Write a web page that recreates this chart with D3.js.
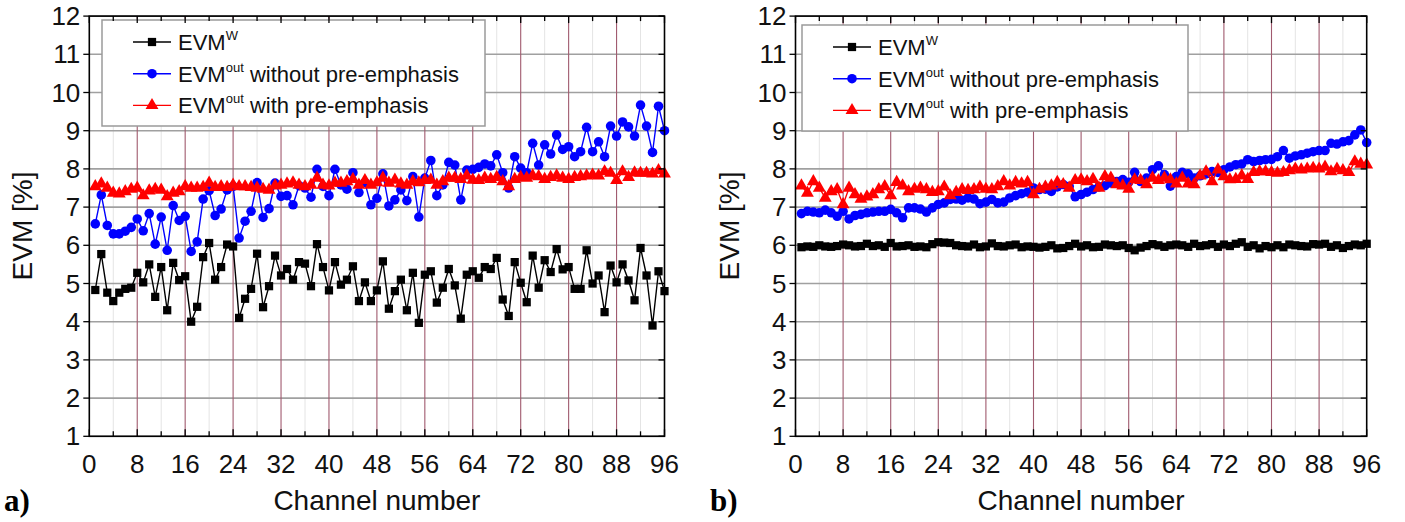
<!DOCTYPE html>
<html><head><meta charset="utf-8">
<script src="https://cdn.jsdelivr.net/npm/d3@7"></script>
<style>body{margin:0;background:#fff}</style>
</head><body><svg id="c" width="1405" height="522"></svg>
<script>
const channels = d3.range(1, 97);
const xTicks = d3.range(0, 97, 8);
const xMinorTicks = d3.range(0, 97, 4);
const yTicks = d3.range(1, 13);
const legendSup = ["W", "out", "out"];
const legendRest = ["", " without pre-emphasis", " with pre-emphasis"];
const panelLabels = ["a)", "b)"];
const xTitle = "Channel number";
const yTitle = "EVM [%]";

const a_evmW = [
4.83,5.77,4.76,4.54,4.76,4.86,4.89,5.28,5.03,5.50,
4.65,5.43,4.30,5.54,5.09,5.19,4.00,4.39,5.69,6.06,
5.10,5.43,6.02,5.97,4.10,4.60,4.86,5.78,4.38,4.93,
5.73,5.21,5.38,5.10,5.56,5.52,4.93,6.03,5.43,4.82,
5.56,4.97,5.10,5.45,4.54,5.03,4.54,4.82,5.58,4.34,
4.80,5.10,4.30,5.28,3.97,5.23,5.32,4.50,4.89,5.38,
4.95,4.08,5.23,5.32,5.15,5.43,5.38,5.67,4.58,4.15,
5.56,5.02,4.51,5.73,4.89,5.61,5.30,5.90,5.37,5.43,
4.86,4.86,5.87,5.00,5.21,4.25,5.47,5.03,5.50,5.08,
4.56,5.93,5.21,3.90,5.32,4.80];
const a_noPre = [
6.56,7.32,6.52,6.30,6.30,6.37,6.47,6.69,6.38,6.83,
6.03,6.74,5.87,7.04,6.65,6.76,5.84,6.09,7.21,7.43,
6.78,6.95,7.45,7.54,6.19,6.63,6.89,7.64,6.73,6.96,
7.63,7.28,7.30,7.06,7.56,7.50,7.26,7.99,7.54,7.30,
7.99,7.58,7.47,7.90,7.38,7.64,7.06,7.23,7.87,7.03,
7.19,7.45,7.17,7.80,6.74,7.76,8.22,7.30,7.58,8.17,
8.10,7.19,7.97,7.99,8.04,8.13,8.08,8.37,7.90,7.50,
8.32,8.02,7.90,8.67,8.10,8.63,8.39,8.89,8.51,8.58,
8.32,8.45,9.09,8.45,8.71,8.32,9.12,8.86,9.23,9.10,
8.86,9.67,9.12,8.43,9.64,9.00];
const a_withPre = [
7.54,7.61,7.50,7.37,7.35,7.41,7.47,7.50,7.30,7.43,
7.47,7.45,7.28,7.37,7.41,7.54,7.50,7.50,7.52,7.63,
7.52,7.54,7.52,7.58,7.54,7.54,7.52,7.50,7.47,7.45,
7.56,7.58,7.61,7.64,7.58,7.54,7.58,7.76,7.58,7.56,
7.63,7.63,7.67,7.73,7.58,7.70,7.58,7.64,7.76,7.63,
7.71,7.61,7.58,7.67,7.64,7.70,7.71,7.58,7.67,7.76,
7.76,7.73,7.82,7.71,7.70,7.76,7.73,7.78,7.67,7.54,
7.73,7.78,7.76,7.82,7.80,7.73,7.78,7.82,7.76,7.73,
7.78,7.80,7.82,7.84,7.82,7.93,7.89,7.70,7.93,7.78,
7.90,7.89,7.89,7.87,7.96,7.87];

const b_evmW = [
5.95,5.97,5.96,6.00,5.97,5.96,5.98,6.02,6.00,5.97,
5.98,6.04,5.98,6.00,5.96,6.06,5.97,5.98,6.00,5.96,
5.97,5.95,6.03,6.08,6.07,6.06,6.00,5.98,5.97,6.02,
5.95,5.97,6.05,5.98,5.97,6.00,6.02,5.95,5.97,5.96,
5.94,5.96,6.00,5.92,5.93,5.98,6.04,5.97,6.00,5.95,
5.96,6.02,6.00,5.98,6.00,5.93,5.87,5.94,5.98,6.03,
6.00,5.96,6.00,6.02,6.00,5.96,6.04,5.98,6.00,6.03,
5.96,6.02,5.98,6.04,6.08,5.96,6.00,5.92,5.98,5.95,
6.00,5.95,6.02,6.00,5.98,5.97,6.03,6.02,6.04,5.96,
6.00,5.93,5.98,6.02,6.00,6.04];
const b_noPre = [
6.83,6.89,6.87,6.85,6.92,6.85,6.76,6.89,6.69,6.78,
6.81,6.85,6.87,6.89,6.89,6.94,6.85,6.72,6.98,6.98,
6.95,6.87,6.98,7.07,7.11,7.20,7.21,7.18,7.24,7.21,
7.09,7.13,7.20,7.11,7.13,7.24,7.30,7.35,7.39,7.50,
7.46,7.47,7.41,7.53,7.59,7.54,7.27,7.33,7.39,7.46,
7.53,7.56,7.63,7.67,7.72,7.65,7.91,7.67,7.76,7.98,
8.08,7.85,7.55,7.80,7.91,7.87,7.76,7.82,7.87,7.93,
7.91,7.98,8.05,8.11,8.13,8.24,8.19,8.22,8.24,8.25,
8.32,8.48,8.28,8.34,8.37,8.41,8.45,8.48,8.48,8.67,
8.65,8.71,8.74,8.89,9.02,8.69];
const b_withPre = [
7.56,7.37,7.67,7.50,7.24,7.41,7.46,7.07,7.50,7.33,
7.21,7.27,7.33,7.46,7.54,7.30,7.65,7.56,7.41,7.47,
7.50,7.46,7.39,7.41,7.53,7.30,7.39,7.46,7.44,7.46,
7.53,7.47,7.46,7.54,7.67,7.56,7.65,7.61,7.65,7.33,
7.47,7.53,7.56,7.65,7.59,7.50,7.70,7.72,7.67,7.73,
7.50,7.80,7.76,7.59,7.56,7.47,7.72,7.70,7.59,7.76,
7.70,7.76,7.72,7.61,7.76,7.61,7.59,7.82,7.93,7.67,
7.98,7.80,7.72,7.73,7.82,7.73,7.91,7.93,7.93,7.91,
7.89,7.91,7.96,8.00,7.98,8.00,8.02,8.00,8.05,7.93,
8.00,7.96,7.91,8.19,8.13,8.11];

const svg = d3.select("#c");
const TICKFONT = "'Liberation Sans Narrow','Arial Narrow','Liberation Sans',Arial,sans-serif";
const FONT = "'Liberation Sans',Arial,sans-serif";

const panels = [
  {x0: 89.3, x1: 664.5, series: [a_evmW, a_noPre, a_withPre], leg: {x: 102, y: 20, w: 383, h: 106}, lab: panelLabels[0], labX: 4, yTitleBase: 32},
  {x0: 795.5, x1: 1366.7, series: [b_evmW, b_noPre, b_withPre], leg: {x: 802, y: 25, w: 386, h: 106}, lab: panelLabels[1], labX: 710, yTitleBase: 739}
];
const styles = [
  {color: "#000000", marker: d3.symbolSquare, size: 68},
  {color: "#0000ff", marker: d3.symbolCircle, size: 72},
  {color: "#ff0000", marker: d3.symbolTriangle, size: 72}
];
const yTop = 16.1, yBot = 436.3;

panels.forEach(p => {
  const x = d3.scaleLinear().domain([0, 96]).range([p.x0, p.x1]);
  const y = d3.scaleLinear().domain([1, 12]).range([yBot, yTop]);
  const g = svg.append("g");

  g.selectAll(".vmin").data(xMinorTicks.filter(t => t % 8 !== 0)).join("line")
    .attr("x1", d => x(d)).attr("x2", d => x(d)).attr("y1", yTop).attr("y2", yBot)
    .attr("stroke", "#e4e4e4").attr("stroke-width", 1);
  g.selectAll(".hg").data(yTicks).join("line")
    .attr("x1", p.x0).attr("x2", p.x1).attr("y1", d => y(d)).attr("y2", d => y(d))
    .attr("stroke", "#a0a0a0").attr("stroke-width", 1.6);
  g.selectAll(".vmaj").data(xTicks.filter(t => t > 0 && t < 96)).join("line")
    .attr("x1", d => x(d)).attr("x2", d => x(d)).attr("y1", yTop).attr("y2", yBot)
    .attr("stroke", "#a05a6e").attr("stroke-width", 1.1);

  p.series.forEach((vals, i) => {
    const st = styles[i];
    const pts = channels.map((c, k) => [c, vals[k]]);
    g.append("path").datum(pts)
      .attr("d", d3.line().x(d => x(d[0])).y(d => y(d[1])))
      .attr("fill", "none").attr("stroke", st.color).attr("stroke-width", 1.4);
    g.selectAll(".m" + i).data(pts).join("path")
      .attr("transform", d => `translate(${x(d[0])},${y(d[1])})`)
      .attr("d", d3.symbol().type(st.marker).size(st.size))
      .attr("fill", st.color);
  });

  const L = p.leg;
  g.append("rect").attr("x", L.x).attr("y", L.y).attr("width", L.w).attr("height", L.h)
    .attr("fill", "#fff").attr("stroke", "#9a9a9a").attr("stroke-width", 1.5);
  styles.forEach((st, i) => {
    const cy = L.y + 22 + i * 31.7;
    g.append("line").attr("x1", L.x + 31).attr("x2", L.x + 69).attr("y1", cy).attr("y2", cy)
      .attr("stroke", st.color).attr("stroke-width", 1.4);
    g.append("path").attr("transform", `translate(${L.x + 50},${cy})`)
      .attr("d", d3.symbol().type(st.marker).size(st.size)).attr("fill", st.color);
    const t = g.append("text").attr("x", L.x + 76).attr("y", cy + 8)
      .attr("font-family", FONT).attr("font-size", 22).attr("fill", "#111");
    t.append("tspan").text("EVM");
    t.append("tspan").attr("dy", -10).attr("font-size", 13).text(legendSup[i]);
    t.append("tspan").attr("dy", 10).text(legendRest[i]);
  });

  g.append("rect").attr("x", p.x0).attr("y", yTop).attr("width", p.x1 - p.x0).attr("height", yBot - yTop)
    .attr("fill", "none").attr("stroke", "#000").attr("stroke-width", 1.6);

  g.selectAll(".tb").data(xMinorTicks).join("line")
    .attr("x1", d => x(d)).attr("x2", d => x(d)).attr("y1", yBot).attr("y2", d => yBot - (d % 8 === 0 ? 7 : 5))
    .attr("stroke", "#000").attr("stroke-width", 1.3);
  g.selectAll(".tt").data(xMinorTicks).join("line")
    .attr("x1", d => x(d)).attr("x2", d => x(d)).attr("y1", yTop).attr("y2", d => yTop + (d % 8 === 0 ? 7 : 5))
    .attr("stroke", "#000").attr("stroke-width", 1.3);
  g.selectAll(".tl").data(yTicks).join("line")
    .attr("x1", p.x0 - 6).attr("x2", p.x0).attr("y1", d => y(d)).attr("y2", d => y(d))
    .attr("stroke", "#000").attr("stroke-width", 1.3);
  g.selectAll(".tr").data(yTicks).join("line")
    .attr("x1", p.x1 - 6).attr("x2", p.x1).attr("y1", d => y(d)).attr("y2", d => y(d))
    .attr("stroke", "#000").attr("stroke-width", 1.3);

  g.selectAll(".xl").data(xTicks).join("text")
    .attr("x", d => x(d)).attr("y", 473).attr("text-anchor", "middle")
    .attr("font-family", TICKFONT).attr("font-size", 26).attr("fill", "#111").text(d => d);
  g.selectAll(".yl").data(yTicks).join("text")
    .attr("x", p.x0 - 9).attr("y", d => y(d) + 9).attr("text-anchor", "end")
    .attr("font-family", TICKFONT).attr("font-size", 26).attr("fill", "#111").text(d => d);

  g.append("text").attr("x", (p.x0 + p.x1) / 2).attr("y", 510).attr("text-anchor", "middle")
    .attr("font-family", FONT).attr("font-size", 28).attr("fill", "#111").text(xTitle);
  g.append("text").attr("transform", `translate(${p.yTitleBase},226) rotate(-90)`).attr("text-anchor", "middle")
    .attr("font-family", FONT).attr("font-size", 28).attr("fill", "#111").text(yTitle);
  g.append("text").attr("x", p.labX).attr("y", 511)
    .attr("font-family", "'Liberation Serif','Times New Roman',serif").attr("font-weight", "bold")
    .attr("font-size", 31).attr("fill", "#000").text(p.lab);
});
</script>
</body></html>
